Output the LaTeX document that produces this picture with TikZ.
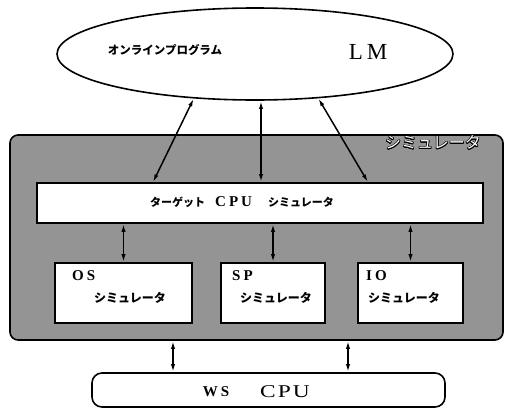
\documentclass[tikz,border=0pt]{standalone}
\usepackage{fontspec}
\setmainfont{Liberation Serif}
\newfontfamily\jp{Noto Sans CJK JP}
\usepackage{contour}
\contourlength{0.6pt}
\usetikzlibrary{shapes.geometric,arrows.meta}
\tikzset{
  box/.style={draw, line width=1.6pt, fill=white, inner sep=0pt},
  dbl/.style={line width=1.5pt, {Latex[length=8pt,width=4.2pt]}-{Latex[length=8pt,width=4.2pt]}},
  kana/.style={font=\jp\bfseries\fontsize{11}{11}\selectfont, inner sep=0pt},
  roman/.style={font=\bfseries\fontsize{15}{15}\selectfont, inner sep=0pt},
}
\begin{document}
\begin{tikzpicture}[x=1pt,y=-1pt]
\useasboundingbox (0,0) rectangle (509,410);

% online program
\node[ellipse, draw, line width=1.6pt, minimum width=396pt, minimum height=92pt, inner sep=0pt] (lm) at (255,54) {};
\node[kana, font=\jp\bfseries\fontsize{11.5}{11.5}\selectfont] (lmjp) at (165,50) {オンラインプログラム};
\node[inner sep=0pt, font=\fontsize{23}{23}\selectfont] (lmtxt) at (368,52) {L\hspace{4pt}M};

% simulator frame
\node[draw, line width=1.6pt, rounded corners=8pt, fill=black!42, minimum width=493pt, minimum height=205pt, inner sep=0pt] (sim) at (256.5,237.5) {};
\node[inner sep=0pt, font=\jp\fontsize{16}{16}\selectfont] (simtxt) at (433,143) {\color{white}\contour{black}{シミュレータ}};

% target CPU simulator
\node[box, minimum width=446pt, minimum height=40pt] (target) at (260,203) {};
\node[inner sep=0pt] (ttxt) at (242,202) {\jp\bfseries\fontsize{11}{11}\selectfont ターゲット\hspace{10pt}{\rmfamily\fontsize{15}{15}\selectfont C\hspace{3pt}P\hspace{3pt}U}\hspace{16pt}シミュレータ};

% sub simulators
\node[box, minimum width=137pt, minimum height=60pt] (os) at (123.5,293) {};
\node[box, minimum width=104pt, minimum height=60pt] (sp) at (273,293) {};
\node[box, minimum width=105pt, minimum height=60pt] (io) at (410.5,293) {};
\node[roman, anchor=west] (ostxt) at (72,276) {O\hspace{3pt}S};
\node[roman, anchor=west] (sptxt) at (232,276) {S\hspace{3pt}P};
\node[roman, anchor=west] (iotxt) at (366,276) {I\hspace{3pt}O};
\node[kana, font=\jp\bfseries\fontsize{12}{12}\selectfont] (osjp) at (130,298) {シミュレータ};
\node[kana, font=\jp\bfseries\fontsize{12}{12}\selectfont] (spjp) at (276,298) {シミュレータ};
\node[kana, font=\jp\bfseries\fontsize{12}{12}\selectfont] (iojp) at (404,298) {シミュレータ};

% workstation CPU
\node[draw, line width=1.6pt, rounded corners=10pt, minimum width=353pt, minimum height=34pt, inner sep=0pt] (ws) at (268.5,390) {};
\node[roman] (wstxt) at (216,392) {W\hspace{3pt}S};
\node[inner sep=0pt, font=\fontsize{18}{18}\selectfont\addfontfeature{FakeStretch=1.3}] (cputxt) at (285,392) {C\hspace{2pt}P\hspace{2pt}U};

% connections
\coordinate (xa) at (153,0);
\coordinate (xb) at (261,0);
\coordinate (xc) at (368,0);
\coordinate (xd) at (173,0);
\coordinate (xe) at (348,0);
\draw[dbl] (target.north -| xa) -- (lm.216);
\draw[dbl] (target.north -| xb) -- (lm.south -| xb);
\draw[dbl] (target.north -| xc) -- (lm.325);
\draw[dbl] (target.south -| os.north) -- (os.north);
\draw[dbl] (target.south -| sp.north) -- (sp.north);
\draw[dbl] (target.south -| io.north) -- (io.north);
\draw[dbl] (sim.south -| xd) -- (ws.north -| xd);
\draw[dbl] (sim.south -| xe) -- (ws.north -| xe);
\end{tikzpicture}
\end{document}
